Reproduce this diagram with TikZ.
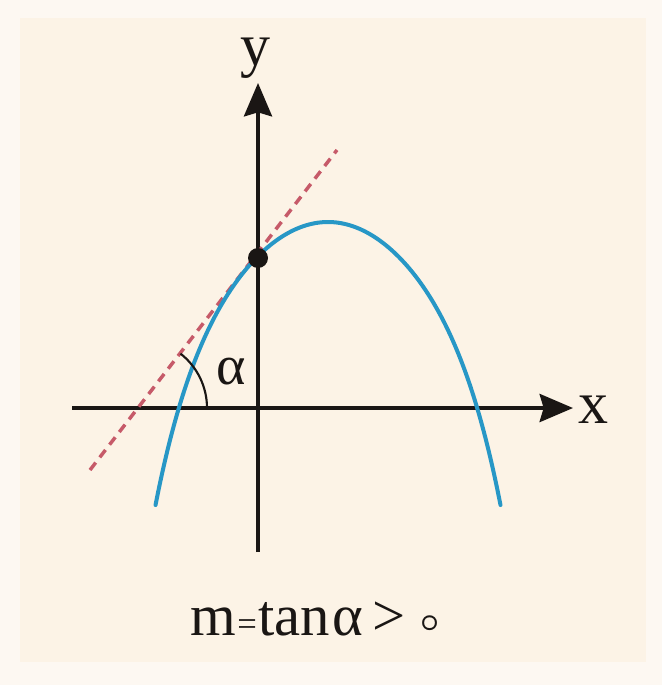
\documentclass[tikz,border=0pt]{standalone}
\usepackage{fontspec}
\setmainfont{Liberation Serif}
\usetikzlibrary{arrows.meta}
\definecolor{bgouter}{HTML}{FDF8F2}
\definecolor{bgpanel}{HTML}{FCF3E6}
\definecolor{curveblue}{HTML}{2797C6}
\definecolor{dashred}{HTML}{C65A69}
\definecolor{axisblack}{HTML}{1A1614}
\tikzset{
  axisline/.style={line width=3pt, draw=axisblack, -{Stealth[length=25pt,width=21pt,inset=3pt]}},
  axislabel/.style={inner sep=0pt, font=\fontsize{45pt}{45pt}\selectfont, text=axisblack},
  parab/.style={line width=3pt, draw=curveblue, line cap=round},
  tangentline/.style={line width=2.6pt, draw=dashred, dash pattern=on 7pt off 5pt},
  dotnode/.style={circle, fill=axisblack, inner sep=0pt, minimum size=15pt},
  anglearc/.style={line width=1.6pt, draw=axisblack},
  alphalabel/.style={inner sep=0pt, font=\fontsize{42pt}{42pt}\selectfont, text=axisblack},
  formula/.style={inner sep=0pt, font=\fontsize{44pt}{44pt}\selectfont, text=axisblack}
}
\begin{document}
\begin{tikzpicture}[x=0.75pt,y=-0.75pt]
\fill[bgouter] (0,0) rectangle (662,685);
\fill[bgpanel] (20,18) rectangle (646,662);
\useasboundingbox (0,0) rectangle (662,685);
% axes
\coordinate (xl) at (72,408);
\coordinate (xr) at (573,408);
\coordinate (yb) at (258,552);
\coordinate (yt) at (258,83);
\draw[axisline] (xl) -- (xr);
\draw[axisline] (yb) -- (yt);
\node[axislabel] (xlab) at (593,410) {x};
\node[axislabel] (ylab) at (255,58) {y};
% tangent line
\coordinate (t1) at (90,470);
\coordinate (t2) at (337,150);
\draw[tangentline] (t1) -- (t2);
% parabola
\draw[parab] plot[domain=-1.725:1.725, samples=120, smooth, variable=\u]
  ({328+100*\u}, {222+69*\u*\u+2.95*\u*\u*\u*\u*\u*\u});
% point on y axis
\node[dotnode] (P) at (258,258) {};
% angle
\coordinate (A) at (138,408);
\draw[anglearc] ([shift={(0:69)}]A) arc[start angle=0,end angle=-52,radius=69];
\node[alphalabel] (alab) at (231,372) {α};
% formula
\node[formula, anchor=base] (f) at (315,635) {m\hspace{1pt}{\fontsize{26pt}{26pt}\selectfont =}\hspace{1pt}tan\hspace{2pt}α\hspace{7pt}>\hspace{11pt}\raisebox{3pt}{\fontsize{34pt}{34pt}\selectfont\boldmath$\circ$}};
\end{tikzpicture}
\end{document}
